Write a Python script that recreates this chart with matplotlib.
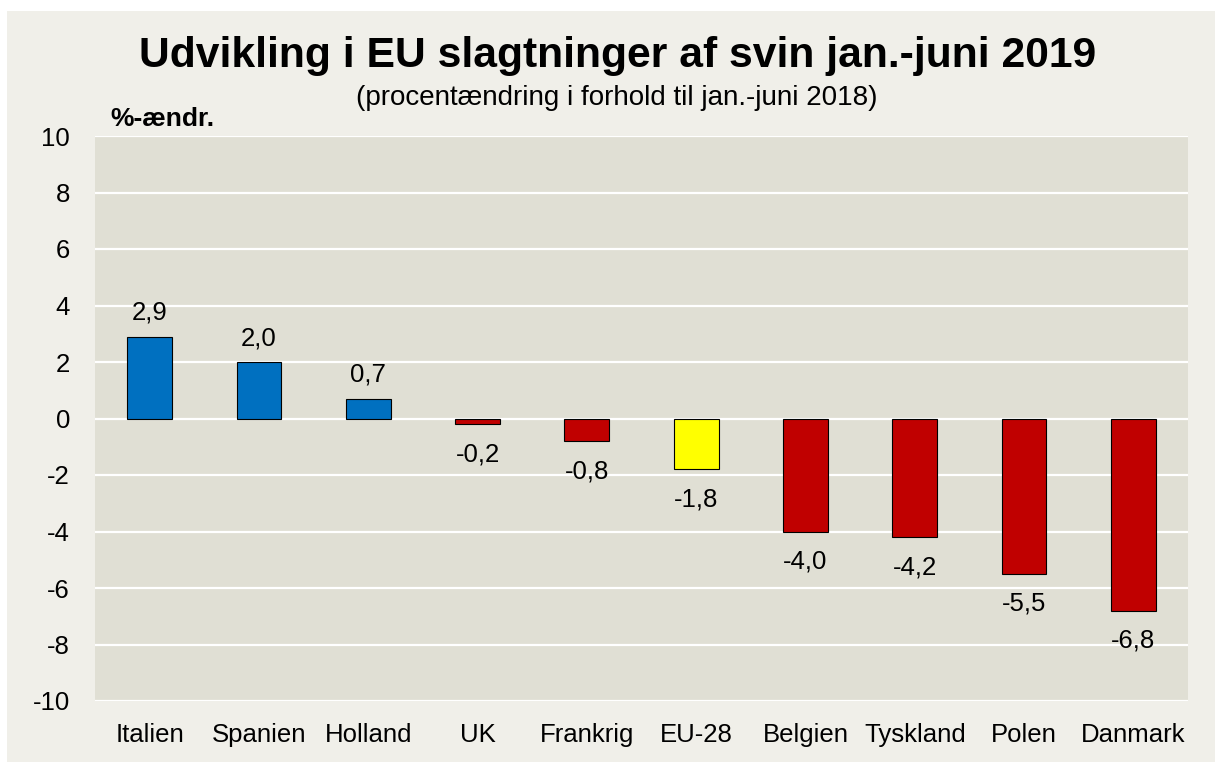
import matplotlib
matplotlib.use("Agg")
import matplotlib.pyplot as plt
from matplotlib.patches import Rectangle

categories = ["Italien", "Spanien", "Holland", "UK", "Frankrig", "EU-28",
              "Belgien", "Tyskland", "Polen", "Danmark"]
values = [2.9, 2.0, 0.7, -0.2, -0.8, -1.8, -4.0, -4.2, -5.5, -6.8]
bar_colors = ["#0070C0", "#0070C0", "#0070C0", "#C00000", "#C00000", "#FFFF00",
              "#C00000", "#C00000", "#C00000", "#C00000"]
yticks = [-10, -8, -6, -4, -2, 0, 2, 4, 6, 8, 10]

plt.rcParams['font.family'] = ['Liberation Sans', 'DejaVu Sans']

W, H = 1215, 762
fig = plt.figure(figsize=(W / 100, H / 100), dpi=100, facecolor="white")
fig.patches.append(Rectangle((7 / W, 0), 1 - 7 / W, 1 - 11 / H, transform=fig.transFigure,
                             facecolor="#F0EFE9", edgecolor="none", zorder=-10))

ax = fig.add_axes([95 / W, 1 - 701 / H, (1188 - 95) / W, (701 - 136) / H])
ax.set_facecolor("#E0DFD4")
x = range(len(categories))
bars = ax.bar(x, values, width=0.41, color=bar_colors, edgecolor="black", linewidth=0.8, zorder=3)
ax.set_ylim(-10, 10)
ax.set_xlim(-0.5, len(categories) - 0.5)
ax.set_yticks(yticks)
ax.set_yticklabels([str(t) for t in yticks])
ax.set_xticks(list(x))
ax.set_xticklabels(categories)
ax.tick_params(axis="both", length=0, labelsize=18.5, colors="black")
ax.tick_params(axis="y", pad=18)
ax.tick_params(axis="x", pad=16)
ax.grid(axis="y", color="white", linewidth=1.6, zorder=1)
for s in ax.spines.values():
    s.set_visible(False)

for xi, v in zip(x, values):
    lab = f"{v:.1f}".replace(".", ",")
    if v >= 0:
        ax.annotate(lab, (xi, v), xytext=(0, 8.5), textcoords="offset points",
                    ha="center", va="bottom", fontsize=18.5)
    else:
        ax.annotate(lab, (xi, v), xytext=(0, -13), textcoords="offset points",
                    ha="center", va="top", fontsize=18.5)

fig.text(618 / W, 1 - 56 / H, "Udvikling i EU slagtninger af svin jan.-juni 2019",
         ha="center", va="center", fontsize=30.7, fontweight="bold")
fig.text(617 / W, 1 - 98 / H, "(procentændring i forhold til jan.-juni 2018)",
         ha="center", va="center", fontsize=20)
fig.text(110 / W, 1 - 119 / H, "%-ændr.", ha="left", va="center",
         fontsize=19, fontweight="bold")

fig.savefig("out.png", dpi=100, facecolor=fig.get_facecolor())
